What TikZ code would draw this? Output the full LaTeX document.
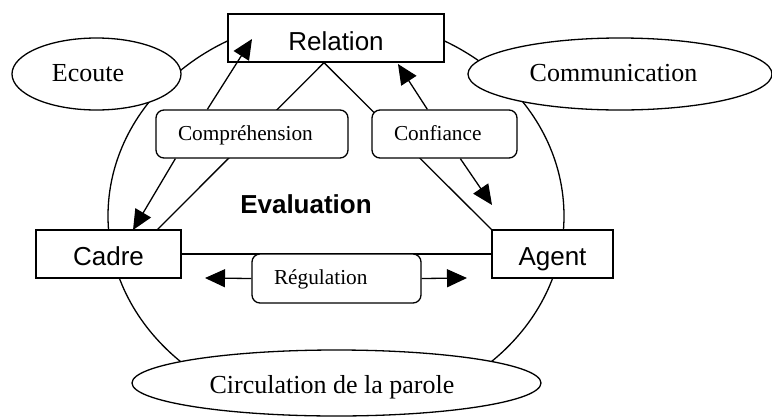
\documentclass[tikz,border=0pt]{standalone}
\usepackage{fontspec}
\newfontfamily\ars{Liberation Sans}
\newfontfamily\tnr{Liberation Serif}
\usetikzlibrary{arrows.meta,shapes.geometric,backgrounds,calc}
\begin{document}
\begin{tikzpicture}[x=1pt,y=-1pt,
  lw/.style={line width=1.3pt},
  sq/.style={lw, draw, fill=white, rectangle, font=\ars\fontsize{26}{30}\selectfont, minimum height=48pt, text depth=0pt, inner sep=0pt},
  rb/.style={lw, draw, fill=white, rounded corners=8pt, font=\tnr\fontsize{21.3}{25}\selectfont, minimum height=48pt, inner xsep=22pt, inner ysep=0pt, align=left, text depth=0pt},
  ell/.style={lw, draw, fill=white, ellipse, font=\tnr\fontsize{26}{30}\selectfont, inner sep=0pt, text depth=0pt},
  arr/.style={lw, -{Triangle[length=20pt,width=18pt]}}
]
\useasboundingbox (0,0) rectangle (772,416);

% nodes
\node[sq, minimum width=216pt, text height=24pt] (relation) at (336,38) {Relation};
\node[sq, minimum width=145pt, text height=22pt] (cadre) at (108.5,254) {Cadre};
\node[sq, minimum width=121pt, text height=22pt] (agent) at (552.5,254) {Agent};

\node[rb, text width=148pt, text height=13.4pt] (comp) at (252,134) {Compréhension};
\node[rb, text width=101pt, text height=13.4pt] (conf) at (444.5,134) {Confiance};
\node[rb, text width=125pt, text height=11pt, minimum height=49pt] (regul) at (336.5,278.5) {Régulation};

\node[ell, minimum width=169pt, minimum height=72pt, text height=14pt] (ecoute) at (96.5,74) {Ecoute\hspace*{17pt}};
\node[ell, minimum width=304pt, minimum height=72pt, text height=14pt] (comm) at (620,74) {Communication\hspace*{13pt}};
\node[ell, minimum width=409pt, minimum height=66pt, text height=20pt] (circ) at (336.5,383) {Circulation de la parole\hspace*{9pt}};

\node[font=\ars\bfseries\fontsize{26}{30}\selectfont, anchor=base, inner sep=0pt] (eval) at (306,213) {Evaluation};

% background lines
\coordinate (apex) at ($(relation.south)+(-12,0)$);
\coordinate (cadreT) at ($(cadre.north east)+(-24,0)$);
\begin{pgfonlayer}{background}
  \draw[lw] (336,216) ellipse [x radius=228pt, y radius=199pt];
  \draw[lw] (apex) -- (cadreT);
  \draw[lw] (apex) -- (agent.north west);
  \draw[lw] (cadre.east) -- (agent.west);
\end{pgfonlayer}

% arrows
\coordinate (tipR1) at (252,39);
\coordinate (tipC) at (133,230);
\coordinate (tipR2) at (398,64);
\coordinate (tipA) at (492,205);
\coordinate (tipL) at (205,278);
\coordinate (tipRt) at (467,278);
\draw[arr] ($(comp.north west)+(52,0)$) -- (tipR1);
\draw[arr] ($(comp.south west)+(20,0)$) -- (tipC);
\draw[arr] ($(conf.north west)+(56,0)$) -- (tipR2);
\draw[arr] ($(conf.south west)+(89,0)$) -- (tipA);
\draw[arr] (regul.west) -- (tipL);
\draw[arr] (regul.east) -- (tipRt);
\end{tikzpicture}
\end{document}
